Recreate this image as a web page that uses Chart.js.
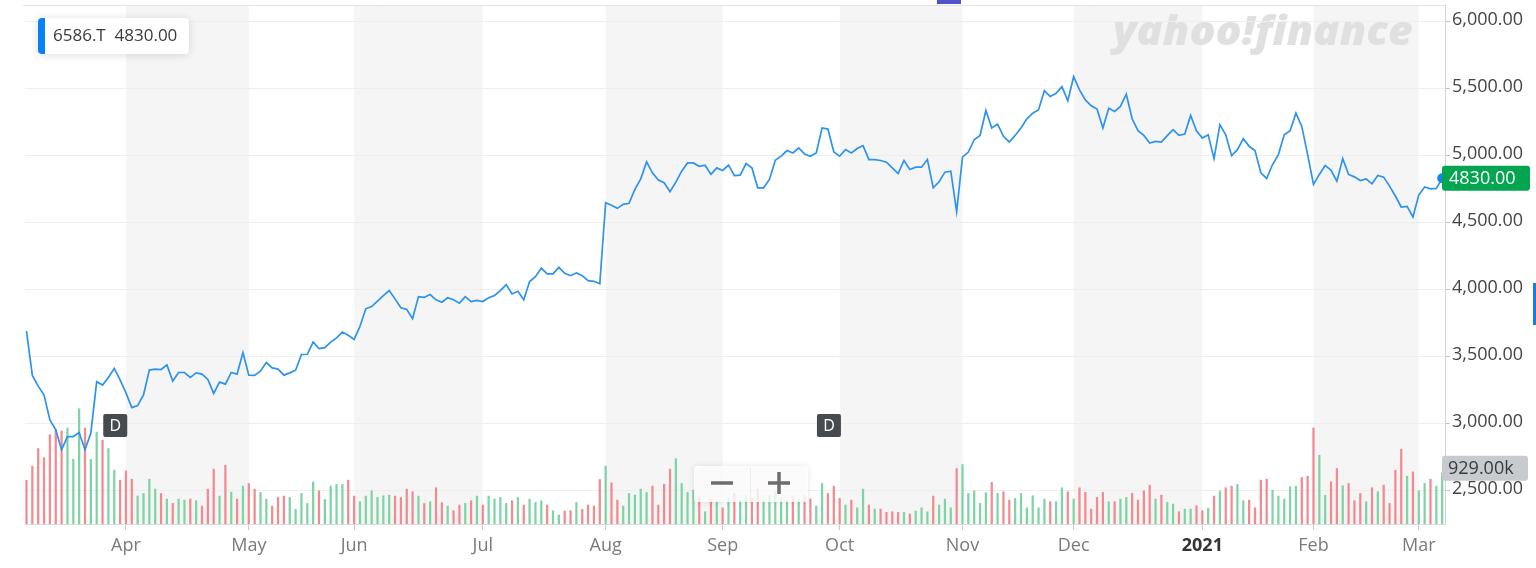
<!DOCTYPE html>
<html lang="en">
<head>
<meta charset="UTF-8">
<title>6586.T</title>
<script src="https://cdn.jsdelivr.net/npm/chart.js"></script>
<style>
  html, body { margin: 0; padding: 0; background: #fff; }
  #wrap { width: 1536px; height: 568px; }
</style>
</head>
<body>
<div id="wrap"><canvas id="myChart" width="1536" height="568"></canvas></div>
<script>
// one point per trading day, Mar 2020 -> Mar 5 2021
const ticker = '6586.T';
const closes = [
  3690, 3360, 3280, 3214, 3028, 2954, 2806, 2904, 2904, 2934,
  2806, 2931, 3313, 3288, 3345, 3412, 3326, 3230, 3120, 3135,
  3214, 3400, 3407, 3404, 3439, 3318, 3382, 3382, 3345, 3379,
  3370, 3330, 3226, 3310, 3295, 3382, 3370, 3531, 3362, 3360,
  3394, 3456, 3416, 3407, 3362, 3379, 3399, 3516, 3518, 3609,
  3560, 3567, 3609, 3640, 3683, 3660, 3629, 3725, 3857, 3874,
  3914, 3955, 3993, 3931, 3865, 3852, 3783, 3948, 3943, 3963,
  3924, 3906, 3939, 3924, 3899, 3948, 3911, 3919, 3911, 3939,
  3956, 3993, 4037, 3968, 3988, 3924, 4060, 4097, 4161, 4117,
  4117, 4166, 4121, 4104, 4124, 4104, 4067, 4062, 4043, 4648,
  4629, 4606, 4636, 4644, 4747, 4826, 4952, 4871, 4817, 4797,
  4730, 4802, 4883, 4945, 4945, 4920, 4928, 4859, 4908, 4889,
  4928, 4851, 4854, 4940, 4908, 4759, 4759, 4822, 4965, 4995,
  5037, 5019, 5056, 5012, 4995, 5019, 5205, 5197, 5026, 4995,
  5044, 5019, 5052, 5074, 4970, 4970, 4963, 4950, 4908, 4866,
  4963, 4896, 4913, 4913, 4970, 4759, 4804, 4876, 4883, 4581,
  4988, 5026, 5118, 5150, 5336, 5205, 5234, 5143, 5101, 5150,
  5205, 5274, 5316, 5341, 5484, 5440, 5464, 5514, 5408, 5588,
  5490, 5415, 5371, 5346, 5205, 5353, 5329, 5366, 5457, 5274,
  5185, 5150, 5093, 5106, 5101, 5148, 5193, 5150, 5160, 5299,
  5185, 5130, 5155, 4977, 5230, 5155, 4999, 5044, 5126, 5069,
  5037, 4871, 4829, 4933, 5007, 5155, 5185, 5316, 5217, 5007,
  4785, 4859, 4926, 4889, 4809, 4977, 4859, 4841, 4814, 4826,
  4789, 4851, 4839, 4772, 4698, 4616, 4621, 4542, 4705, 4765,
  4752, 4755, 4830
];
// volume in thousands of shares
const volumes = [
  800, 1056, 1378, 1213, 1632, 1723, 1700, 1753, 1183, 2105,
  1753, 1183, 1680, 1529, 1378, 983, 801, 970, 819, 510,
  558, 819, 637, 558, 455, 376, 455, 437, 455, 425,
  328, 637, 1001, 510, 1074, 582, 455, 692, 740, 637,
  576, 455, 328, 485, 510, 485, 267, 558, 376, 770,
  607, 449, 692, 722, 722, 801, 510, 406, 510, 607,
  485, 516, 528, 510, 485, 637, 589, 510, 376, 406,
  661, 389, 328, 243, 346, 376, 425, 510, 346, 510,
  455, 485, 376, 425, 485, 346, 455, 394, 425, 346,
  243, 164, 237, 243, 394, 267, 346, 328, 813, 1056,
  752, 437, 328, 558, 528, 637, 576, 692, 346, 728,
  1001, 1195, 740, 576, 619, 500, 224, 450, 420, 297,
  480, 560, 430, 520, 470, 640, 450, 520, 600, 480,
  440, 500, 460, 520, 455, 328, 740, 558, 692, 467,
  346, 437, 297, 637, 346, 273, 273, 212, 224, 212,
  212, 182, 237, 297, 224, 510, 346, 455, 297, 1013,
  1086, 558, 607, 376, 570, 759, 558, 589, 437, 467,
  558, 297, 516, 297, 455, 407, 407, 662, 589, 455,
  662, 577, 273, 486, 577, 407, 407, 455, 486, 558,
  437, 607, 710, 455, 528, 395, 364, 225, 273, 273,
  334, 243, 285, 510, 601, 662, 692, 722, 425, 437,
  297, 801, 819, 619, 510, 455, 680, 692, 850, 874,
  1754, 1256, 528, 771, 1014, 698, 741, 425, 558, 407,
  662, 589, 710, 376, 983, 1366, 874, 953, 607, 741,
  819, 692, 929
];
// first trading day of each month (index into the arrays above)
const monthTicks = [17, 38, 56, 78, 99, 119, 139, 160, 179, 201, 220, 238];
const monthLabels = ['Apr', 'May', 'Jun', 'Jul', 'Aug', 'Sep', 'Oct', 'Nov', 'Dec', '2021', 'Feb', 'Mar'];
const priceTicks = [2500, 3000, 3500, 4000, 4500, 5000, 5500, 6000];
const dividendDays = [15, 137];

const upColor = '#7fd4a5';
const downColor = '#f38a8f';
const FONT = 'Open Sans';

const last = closes.length - 1;
const volColors = closes.map((c, i) => (i > 0 && c >= closes[i - 1]) ? upColor : downColor);

function roundRect(ctx, x, y, w, h, r) {
  ctx.beginPath();
  ctx.roundRect(x, y, w, h, r);
}

const decor = {
  id: 'decor',
  beforeDraw(chart) {
    const { ctx, chartArea: a, scales } = chart;
    const xs = scales.x;
    ctx.save();
    ctx.fillStyle = '#fff';
    ctx.fillRect(0, 0, chart.width, chart.height);
    // alternate month shading
    ctx.fillStyle = '#f5f5f5';
    for (let k = 0; k + 1 < monthTicks.length; k += 2) {
      const x0 = xs.getPixelForValue(monthTicks[k]);
      const x1 = xs.getPixelForValue(monthTicks[k + 1]);
      ctx.fillRect(x0, a.top, x1 - x0, a.bottom - a.top);
    }
    // top border
    ctx.strokeStyle = '#e3e3e3';
    ctx.lineWidth = 1;
    ctx.beginPath();
    ctx.moveTo(a.left - 2, a.top + 0.5);
    ctx.lineTo(a.right, a.top + 0.5);
    ctx.stroke();
    // watermark
    ctx.fillStyle = '#e0e0e0';
    ctx.font = 'italic 800 40px ' + FONT;
    ctx.textBaseline = 'alphabetic';
    const txt = 'yahoo!finance';
    const w = ctx.measureText(txt).width;
    ctx.translate(1113, 45);
    ctx.scale(300 / w, 1);
    ctx.fillText(txt, 0, 0);
    ctx.restore();
  },
  afterDatasetsDraw(chart) {
    const { ctx, chartArea: a, scales } = chart;
    const xs = scales.x;
    ctx.save();
    // dividend markers
    dividendDays.forEach(d => {
      const cx = xs.getPixelForValue(d) + 1;
      ctx.fillStyle = '#474b50';
      roundRect(ctx, cx - 12, a.bottom - 110, 24, 23, 2);
      ctx.fill();
      ctx.fillStyle = '#fff';
      ctx.font = '16px ' + FONT;
      ctx.textAlign = 'center';
      ctx.textBaseline = 'middle';
      ctx.fillText('D', cx, a.bottom - 98);
    });
    // zoom buttons
    ctx.shadowColor = 'rgba(0,0,0,0.12)';
    ctx.shadowBlur = 6;
    ctx.fillStyle = 'rgba(255,255,255,0.82)';
    roundRect(ctx, 694, 466, 114, 36, 3);
    ctx.fill();
    ctx.shadowBlur = 0;
    ctx.shadowColor = 'transparent';
    ctx.strokeStyle = 'rgba(0,0,0,0.06)';
    ctx.beginPath();
    ctx.moveTo(750.5, 468);
    ctx.lineTo(750.5, 500);
    ctx.stroke();
    ctx.strokeStyle = '#6d6d6d';
    ctx.lineWidth = 3.5;
    ctx.beginPath();
    ctx.moveTo(711, 483); ctx.lineTo(733, 483);
    ctx.moveTo(768, 483); ctx.lineTo(790, 483);
    ctx.moveTo(779, 472); ctx.lineTo(779, 494);
    ctx.stroke();
    // info box
    ctx.shadowColor = 'rgba(0,0,0,0.14)';
    ctx.shadowBlur = 8;
    ctx.shadowOffsetY = 1;
    ctx.fillStyle = '#fff';
    roundRect(ctx, 38, 18, 151, 36, 4);
    ctx.fill();
    ctx.shadowColor = 'transparent';
    ctx.fillStyle = '#0a80f5';
    roundRect(ctx, 38, 18, 7, 36, [4, 0, 0, 4]);
    ctx.fill();
    ctx.fillStyle = '#3a3a3a';
    ctx.font = '17px ' + FONT;
    ctx.textAlign = 'left';
    ctx.textBaseline = 'middle';
    ctx.fillText(ticker + '  ' + closes[last].toFixed(2), 53, 36.5);
    // decorative ui stubs
    ctx.fillStyle = '#5353c9';
    ctx.fillRect(937, 0, 24, 4);
    ctx.fillStyle = '#1f7ae0';
    ctx.fillRect(1533, 283, 3, 42);
    ctx.restore();
  },
  afterDraw(chart) {
    const { ctx, chartArea: a, scales } = chart;
    ctx.save();
    ctx.font = '18px ' + FONT;
    ctx.textAlign = 'left';
    ctx.textBaseline = 'middle';
    // last price tag
    const py = scales.y.getPixelForValue(closes[last]);
    ctx.fillStyle = '#03a550';
    roundRect(ctx, a.right - 3, py - 12.5, 88, 25, 3);
    ctx.fill();
    ctx.fillStyle = '#fff';
    ctx.fillText(closes[last].toFixed(2), a.right + 4, py + 0.5);
    // last volume tag
    const vy = scales.yv.getPixelForValue(volumes[last]) - 5;
    ctx.fillStyle = '#c7cbd0';
    roundRect(ctx, a.right - 3, vy - 12.5, 86, 25, 3);
    ctx.fill();
    ctx.fillStyle = '#3a3a3a';
    ctx.fillText(volumes[last].toFixed(2) + 'k', a.right + 3, vy + 0.5);
    ctx.restore();
  }
};

Chart.defaults.font.family = FONT;

new Chart(document.getElementById('myChart'), {
  type: 'bar',
  data: {
    datasets: [{
      type: 'line',
      data: closes.map((c, i) => ({ x: i, y: c })),
      yAxisID: 'y',
      borderColor: '#2d93ec',
      borderWidth: 1.7,
      tension: 0,
      pointRadius: c => c.dataIndex === last ? 5 : 0,
      pointBackgroundColor: '#1585f5',
      pointBorderWidth: 0,
      clip: false,
      order: 0
    }, {
      type: 'bar',
      data: volumes.map((v, i) => ({ x: i, y: v })),
      yAxisID: 'yv',
      backgroundColor: volColors,
      barThickness: 1.6,
      grouped: false,
      order: 1
    }]
  },
  options: {
    responsive: false,
    animation: false,
    layout: { padding: { left: 25, top: 3, right: 0, bottom: 0 } },
    plugins: { legend: { display: false }, tooltip: { enabled: false } },
    scales: {
      x: {
        type: 'linear',
        offset: false,
        min: -0.256,
        max: 242.48,
        afterBuildTicks: s => { s.ticks = monthTicks.map(v => ({ value: v })); },
        afterFit: s => { s.height = 44; s.paddingLeft = 0; s.paddingRight = 0; },
        grid: { offset: false, drawOnChartArea: false, drawTicks: true, tickLength: 6, color: '#c8c8c8' },
        border: { display: true, color: '#dcdcdc' },
        ticks: {
          autoSkip: false,
          maxRotation: 0,
          padding: 5,
          callback: v => monthLabels[monthTicks.indexOf(v)],
          font: c => ({ family: FONT, size: 18, weight: /^\d{4}$/.test(c.tick && c.tick.label) ? 'bold' : 'normal' }),
          color: c => /^\d{4}$/.test(c.tick && c.tick.label) ? '#333' : '#7b7b7b'
        }
      },
      y: {
        position: 'right',
        min: 2252,
        max: 6122.6,
        afterBuildTicks: s => { s.ticks = priceTicks.map(v => ({ value: v })); },
        afterFit: s => { s.width = 91; s.paddingTop = 0; s.paddingBottom = 0; },
        grid: { color: '#eeeeee', tickColor: '#c4c4c4', tickLength: 5 },
        border: { display: true, color: '#d4d4d4' },
        ticks: {
          padding: 2,
          labelOffset: -2,
          color: '#444',
          font: { family: FONT, size: 18 },
          callback: v => v.toLocaleString('en-US', { minimumFractionDigits: 2, maximumFractionDigits: 2 })
        }
      },
      yv: { display: false, min: 0, max: 9482 }
    }
  },
  plugins: [decor]
});
</script>
</body>
</html>
